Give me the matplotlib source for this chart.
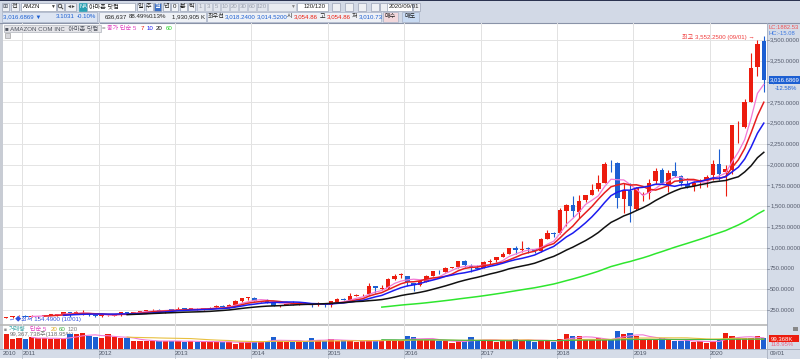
import numpy as np
import pandas as pd
import matplotlib
matplotlib.use('Agg')
import matplotlib.pyplot as plt
from matplotlib.patches import Rectangle, Circle

plt.rcParams['font.family'] = ['Liberation Sans', 'Noto Sans CJK KR', 'DejaVu Sans']

# ---------------- data (monthly AMZN, Oct 2010 - Sep 2020) ----------------
months = pd.date_range('2010-10-01', periods=120, freq='MS')

open_ = [157, 165, 177, 181, 170, 173, 181, 196, 196, 205, 222, 215, 213, 212, 190,
         176, 173, 180, 202, 230, 211, 229, 235, 249, 254, 234, 252, 256, 267, 265,
         266, 254, 267, 281, 302, 281, 314, 363, 395, 399, 357, 362, 338, 304, 313,
         325, 313, 340, 322, 306, 339, 312, 350, 380, 372, 423, 430, 440, 536, 505,
         512, 627, 673, 657, 578, 556, 590, 663, 720, 713, 762, 770, 836, 785, 753,
         758, 829, 853, 888, 927, 998, 972, 996, 984, 964, 1105, 1172, 1172, 1445, 1513,
         1431, 1572, 1637, 1705, 1784, 2007, 2021, 1581, 1685, 1466, 1638, 1655, 1800, 1933, 1761,
         1922, 1862, 1770, 1746, 1788, 1804, 1875, 2010, 1906, 1933, 2437, 2448, 2757, 3180, 3489]
high = [170, 177, 185, 191, 191, 182, 196, 206, 206, 227, 224, 244, 246, 218, 197,
        197, 192, 206, 232, 232, 229, 236, 248, 264, 262, 253, 262, 284, 272, 275,
        275, 271, 283, 310, 305, 317, 368, 395, 405, 408, 364, 377, 349, 316, 337,
        360, 350, 345, 334, 352, 340, 361, 389, 389, 452, 439, 446, 580, 541, 555,
        635, 679, 696, 658, 581, 603, 669, 724, 731, 766, 774, 839, 847, 800, 791,
        843, 860, 891, 950, 1001, 1017, 1083, 1007, 989, 1122, 1214, 1194, 1473, 1528, 1617,
        1638, 1635, 1763, 1880, 2026, 2050, 2033, 1785, 1779, 1736, 1676, 1823, 1956, 1964, 1935,
        2035, 1876, 1841, 1798, 1825, 1870, 2055, 2185, 1996, 2475, 2525, 2796, 3344, 3495, 3552.25]
low = [154.49, 156, 173, 166, 169, 160, 178, 190, 182, 203, 166, 204, 195, 177, 166,
       172, 173, 177, 177, 209, 206, 209, 226, 242, 226, 217, 244, 253, 256, 257,
       251, 251, 263, 276, 280, 280, 305, 341, 373, 355, 342, 336, 296, 284, 310,
       311, 305, 320, 284, 298, 285, 285, 350, 367, 368, 418, 421, 430, 452, 490,
       506, 616, 638, 540, 474, 538, 585, 656, 682, 708, 753, 757, 774, 710, 740,
       751, 803, 833, 884, 927, 927, 951, 940, 940, 950, 1100, 1124, 1170, 1265, 1366,
       1352, 1546, 1635, 1678, 1776, 1911, 1476, 1420, 1307, 1460, 1566, 1586, 1767, 1762, 1672,
       1849, 1739, 1724, 1685, 1722, 1731, 1815, 1811, 1626, 1890, 2256, 2437, 2750, 3073, 2871]
close = [165.2, 175.4, 180.0, 169.6, 173.3, 180.1, 195.8, 196.7, 204.5, 222.5, 215.2, 216.2, 213.5, 192.3, 173.1,
         194.4, 179.7, 202.5, 231.9, 212.9, 228.4, 233.3, 248.3, 254.3, 232.9, 252.1, 250.9, 265.5, 264.3, 266.5,
         253.8, 269.2, 277.7, 301.2, 280.9, 312.6, 364.0, 393.6, 398.8, 358.7, 362.1, 336.4, 304.1, 312.6, 324.8,
         313.0, 339.0, 322.4, 305.5, 338.6, 310.4, 354.5, 380.2, 372.1, 421.8, 429.2, 434.1, 536.2, 512.9, 511.9,
         625.9, 664.8, 675.9, 587.0, 552.5, 593.6, 659.6, 722.8, 715.6, 758.8, 769.2, 837.3, 789.8, 750.6, 749.9,
         823.5, 845.0, 886.5, 925.0, 994.6, 968.0, 987.8, 980.6, 961.4, 1105.3, 1176.8, 1169.5, 1450.9, 1512.5, 1447.3,
         1566.1, 1629.6, 1699.8, 1777.4, 2012.7, 2003.0, 1598.0, 1690.2, 1502.0, 1718.7, 1639.8, 1780.8, 1926.5, 1775.1, 1893.6,
         1866.8, 1776.3, 1735.9, 1776.7, 1800.8, 1847.8, 2008.7, 1883.8, 1949.7, 2474.0, 2442.4, 2758.8, 3164.7, 3451.0, 3016.69]
volume = [135, 90, 100, 90, 108, 96, 96, 90, 90, 90, 135, 135, 140, 117, 108,
          100, 132, 105, 95, 95, 70, 72, 70, 74, 70, 70, 74, 70, 65, 72,
          62, 65, 70, 62, 62, 65, 48, 65, 62, 70, 70, 70, 110, 70, 65,
          65, 70, 75, 95, 85, 70, 90, 70, 80, 75, 65, 70, 80, 70, 85,
          80, 70, 75, 117, 108, 85, 80, 80, 70, 70, 55, 70, 70, 105, 80,
          80, 80, 65, 80, 80, 90, 80, 80, 65, 80, 80, 60, 90, 130, 120,
          120, 85, 80, 95, 80, 80, 160, 130, 140, 120, 85, 90, 85, 95, 80,
          70, 70, 80, 60, 70, 55, 70, 85, 145, 120, 95, 95, 95, 115, 99.37]

ma_periods = [5, 7, 10, 20, 60]
ma_colors = ['#f27ad6', '#e61e1e', '#1c1cf0', '#111111', '#2ee62e']
vol_ma_periods = [5, 20, 60]
vol_ma_colors = ['#f27ad6', '#e8c040', '#48b848']
price_ticks = list(range(250, 3501, 250))

RED = '#ec1c0e'
BLUE = '#1c5fd2'
PANEL = '#d5dce8'
FS = 4.4

W, H = 800, 359
fig = plt.figure(figsize=(8, 3.59), dpi=100)


def rect(px0, py0, px1, py1):
    return [px0 / W, 1 - py1 / H, (px1 - px0) / W, (py1 - py0) / H]


bg = fig.add_axes([0, 0, 1, 1], zorder=0)
bg.set_xlim(0, W); bg.set_ylim(H, 0); bg.axis('off')
ov = fig.add_axes([0, 0, 1, 1], zorder=5)
ov.set_xlim(0, W); ov.set_ylim(H, 0); ov.axis('off'); ov.patch.set_alpha(0)

# backgrounds
bg.add_patch(Rectangle((0, 0), W, 23, fc='#d2d9e6', ec='none'))
bg.add_patch(Rectangle((0, 0), W, 1.3, fc='#2b3350', ec='none'))
bg.add_patch(Rectangle((0, 23), W, H - 23, fc='white', ec='none'))
bg.add_patch(Rectangle((767, 23), W - 767, H - 23, fc=PANEL, ec='none'))
bg.add_patch(Rectangle((0, 349), W, 9, fc=PANEL, ec='none'))
bg.add_patch(Rectangle((0, 23), 2.5, 326, fc='#c8ccd4', ec='none'))
bg.plot([0, W], [22.5, 22.5], color='#8a93a8', lw=0.8)

# ---------------- header ----------------
hy1 = 6.5
hy2 = 16.8


def box(x0, x1, y0, y1, fc='white', ec='#9aa3b5'):
    ov.add_patch(Rectangle((x0, y0), x1 - x0, y1 - y0, fc=fc, ec=ec, lw=0.5))


def t(px, py, s, col='#202020', ha='left', fs=FS):
    ov.text(px, py, s, fontsize=fs, ha=ha, va='center', color=col)


box(1.5, 9, 2.5, 10.5, fc='#eef0f4')
t(5.2, hy1, '⊞', '#404858', 'center')
box(10.5, 19, 2.5, 10.5, fc='#eef0f4')
t(14.7, hy1, '전', ha='center')
box(21, 56, 2.5, 10.5)
t(23, hy1, 'AMZN')
t(52.5, hy1, '▼', '#404040', 'center', 3.5)
box(57, 64, 2.5, 10.5, fc='#eef0f4')
ov.add_patch(Circle((60, 6), 1.8, fc='none', ec='#404040', lw=0.6))
ov.plot([61.3, 62.8], [7.3, 8.8], color='#404040', lw=0.7)
box(65, 76, 2.5, 10.5, fc='#eef0f4')
t(70.5, hy1, '◄►', '#404040', 'center', 3.5)
box(79, 87, 2.5, 10.5, fc='#2aa0b4', ec='#2aa0b4')
t(83, hy1, 'NA', 'white', 'center', 4)
box(87, 135, 2.5, 10.5)
t(89, hy1, '아마존 닷컴')

btns = [('일', 137, 144), ('주', 145.5, 152.5), ('월', 154, 161), ('년', 162.5, 169.5),
        ('0', 171, 178), ('분', 179.5, 186.5), ('틱', 188, 195)]
for lab, x0, x1 in btns:
    sel = lab == '월'
    box(x0, x1, 2.5, 10.5, fc='#3b6fc6' if sel else '#f2f4f8')
    t((x0 + x1) / 2, hy1, lab, 'white' if sel else '#202020', 'center')
nums = ['1', '3', '5', '10', '20', '30', '60', '120']
xs = [197, 205, 213, 221, 230, 239, 248, 257]
ws = [7, 7, 7, 8, 8, 8, 8, 10]
for lab, x0, w in zip(nums, xs, ws):
    box(x0, x0 + w, 2.5, 10.5, fc='#e2e6ee', ec='#b8bfcc')
    t(x0 + w / 2, hy1, lab, '#9aa0ad', 'center')
box(268, 296, 2.5, 10.5, fc='#e8ebf0', ec='#b8bfcc')
t(292, hy1, '▼', '#808080', 'center', 3.5)
box(297, 328, 2.5, 10.5)
t(326, hy1, '120/120', ha='right')
for x0 in [332, 345, 358, 371, 380]:
    box(x0, x0 + 8, 2.5, 10.5, fc='#eef0f4')
box(387, 412, 2.5, 10.5)
t(389, hy1, '2020/09/01')
box(413, 420, 2.5, 10.5, fc='#eef0f4')

# row 2
box(1.5, 97, 12, 21.5, fc='#dde5f2', ec='#a8b2c6')
t(3, hy2, '3,016.6869 ▼', BLUE)
t(56, hy2, '3.1031', BLUE)
t(77, hy2, '-0.10%', BLUE)
box(99, 206, 12, 21.5, fc='#eef1f6', ec='#a8b2c6')
t(127, hy2, '636,637', ha='right')
t(150, hy2, '88.49%', ha='right')
t(166, hy2, '0.13%', ha='right')
t(205, hy2, '1,930,905 K', ha='right')
box(207, 381, 12, 21.5, fc='#eef1f6', ec='#a8b2c6')
t(208, hy2, '최우선')
t(225, hy2, '3,018.2400', BLUE)
t(257, hy2, '3,014.5200', BLUE)
t(287, hy2, '시')
t(293.5, hy2, '3,054.86', RED)
t(320, hy2, '고')
t(326.5, hy2, '3,054.86', RED)
t(352, hy2, '저')
t(358.5, hy2, '3,010.73', BLUE)
box(383, 398, 12, 21.5, fc='#f2d8dc', ec='#a8b2c6')
t(390.5, hy2, '매수', ha='center')
box(402, 419, 12, 21.5, fc='#c8daf2', ec='#a8b2c6')
t(410.5, hy2, '매도', ha='center')

# ---------------- price pane ----------------
axp = fig.add_axes(rect(3, 23, 767, 325), zorder=2)
axv = fig.add_axes(rect(3, 325, 767, 349), zorder=2)
for a in (axp, axv):
    a.set_xlim(-0.5, 119.5)
    a.set_xticks([]); a.set_yticks([])
    for s in a.spines.values():
        s.set_visible(False)
    a.patch.set_alpha(0)
axp.set_ylim(70, 3705)
axv.set_ylim(0, 215)

x = np.arange(len(months))
o = np.array(open_); c = np.array(close); hi = np.array(high); lo = np.array(low)
cols = [RED if cc >= oo else BLUE for oo, cc in zip(o, c)]

year_starts = [i for i, m in enumerate(months) if m.month == 1]
for i in year_starts:
    axp.axvline(i - 0.5, color='#e2e2e2', lw=0.7, zorder=0)
    axv.axvline(i - 0.5, color='#e2e2e2', lw=0.7, zorder=0)
for tk in price_ticks:
    axp.axhline(tk, color='#e4e4e4', lw=0.7, zorder=0)

axp.vlines(x, lo, hi, colors=cols, lw=0.8, zorder=3)
body = np.maximum(np.abs(c - o), 7)
axp.bar(x, body, bottom=np.minimum(o, c), width=0.7, color=cols, zorder=4)

cs = pd.Series(c)
for p, col in zip(ma_periods, ma_colors):
    lw = 0.9 if p == 5 else 1.1
    axp.plot(x, cs.rolling(p).mean(), color=col, lw=lw, zorder=5)

# right axis labels
ytr = axp.get_yaxis_transform()
for tk in price_ticks:
    axp.text(1.004, tk, f'{tk:,.4f}', transform=ytr, fontsize=4.3, ha='left', va='center',
             color='#555b6c', clip_on=False)
    axp.plot([1.0, 1.003], [tk, tk], transform=ytr, color='#8890a0', lw=0.6, clip_on=False)

axp.text(1.004, c[-1], '3,016.6869', transform=ytr, fontsize=4.3, ha='left', va='center',
         color='white', clip_on=False,
         bbox=dict(boxstyle='square,pad=0.25', fc=BLUE, ec='none'))
axp.text(1.010, c[-1] - 95, '-12.58%', transform=ytr, fontsize=4.3, ha='left', va='center',
         color=BLUE, clip_on=False)

# annotations
axp.text(117.6, high[-1] - 20, '최고 3,552.2500 (09/01) →', fontsize=FS, ha='right', va='center',
         color='#f03c3c')
axp.text(0.4, low[0] - 10, '←◆최저 154.4900 (10/01)', fontsize=FS, ha='left', va='center',
         color='#3050e0')

# legend row
ov.add_patch(Rectangle((3.5, 24.5), 97, 7.5, fc='#e4e4e8', ec='#b0b4bc', lw=0.5))
t(5, 28.3, '■ AMAZON COM INC  아마존 닷컴', '#505560')
t(102, 28.3, '=', '#606060')
leg = [('종가 단순 5', '#e040c0', 107), ('7', RED, 141), ('10', '#1c1cf0', 147),
       ('20', '#111111', 156), ('60', '#20d020', 166)]
for lab, col, px in leg:
    t(px, 28.3, lab, col)
ov.add_patch(Rectangle((5, 33), 5, 5, fc='#d8d8dc', ec='#909090', lw=0.4))

t(768.5, 27.5, 'LC:1882.53', '#f05050', fs=4.2)
t(768.5, 33.5, 'HC:-15.08', '#3c78e0', fs=4.2)

# ---------------- volume pane ----------------
vol = np.array(volume)
axv.text(0.5, 130, '99,367,738주(118.95%)', fontsize=FS, ha='left', va='center',
         color='#707070', zorder=1)
axv.bar(x, vol, width=0.84, color=cols, zorder=3)
vs = pd.Series(vol)
for p, col in zip(vol_ma_periods, vol_ma_colors):
    axv.plot(x, vs.rolling(p).mean(), color=col, lw=0.8, zorder=4)
bg.plot([0, 767], [325, 325], color='#b8b8b8', lw=1.2)

t(4, 329.3, '■', '#909090', fs=3.5)
vleg = [('거래량', '#40a8a8', 9), ('단순 5', '#e040c0', 30), ('20', '#e0b020', 51),
        ('60', '#40b040', 59), ('120', '#808080', 68)]
for lab, col, px in vleg:
    t(px, 329.3, lab, col)

ov.add_patch(Rectangle((769, 335), 30, 6.5, fc=RED, ec='none'))
t(770.5, 338.3, '99,368K', 'white', fs=4.3)
t(771, 344.8, '118.95%', '#f06080', fs=4.3)
ov.add_patch(Rectangle((793, 327), 5, 4, fc='#888888', ec='none'))

# ---------------- date band ----------------
bg.plot([0, W], [349, 349], color='#a0a8b8', lw=0.6)
xtr = axv.get_xaxis_transform()
axv.text(-0.5, -0.2, '2010', transform=xtr, fontsize=FS, ha='left', va='center', color='#505868')
for i in year_starts:
    axv.text(i - 0.45, -0.2, str(months[i].year), transform=xtr, fontsize=FS, ha='left',
             va='center', color='#505868', clip_on=False)
    axv.plot([i - 0.5, i - 0.5], [0, -0.38], transform=xtr, color='#b8c0cc', lw=0.6, clip_on=False)
axv.text(1.004, -0.2, '09/01', transform=axv.transAxes, fontsize=FS, ha='left', va='center',
         color='#505868')
bg.plot([767, 767], [23, 358], color='#a8b0c0', lw=0.6)

fig.savefig('out.png', dpi=100)
